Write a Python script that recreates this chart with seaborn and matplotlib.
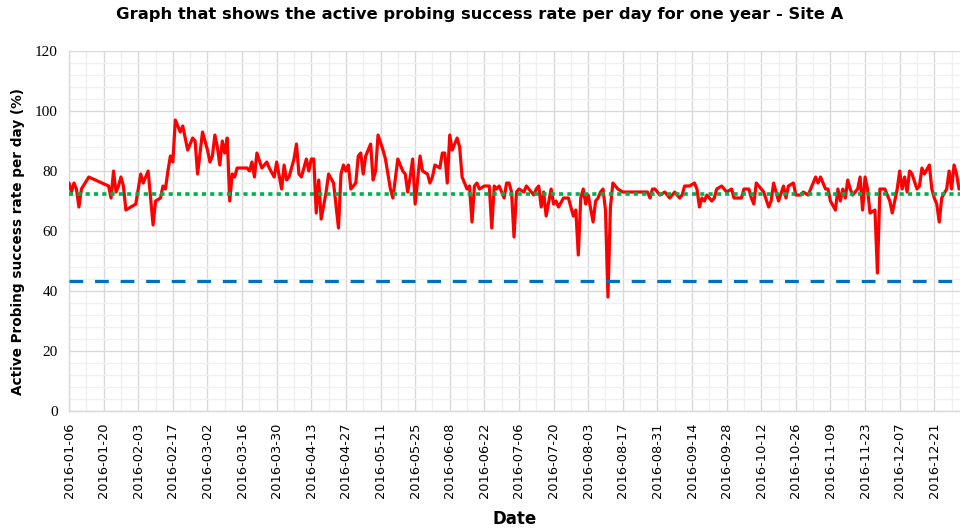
import matplotlib
matplotlib.use("Agg")
import matplotlib.pyplot as plt
import matplotlib.dates as mdates
import seaborn as sns
import pandas as pd
import numpy as np

# data (day offset from 2016-01-06, success rate %)
start_date = "2016-01-06"
day_offsets = [0, 1, 2, 3, 4, 5, 8, 16, 17, 18, 19, 20, 21, 22, 23, 27, 29, 30, 31, 32,
               33, 34, 35, 37, 38, 39, 40, 41, 42, 43, 44, 45, 46, 47, 48, 50, 51, 52, 54, 56,
               57, 58, 59, 60, 61, 62, 63, 64, 65, 66, 67, 68, 72, 73, 74, 75, 76, 78, 80, 81,
               83, 84, 86, 87, 88, 89, 91, 92, 93, 94, 96, 97, 98, 99, 100, 101, 102, 104, 105, 107,
               109, 110, 111, 112, 113, 114, 116, 117, 118, 119, 120, 122, 123, 124, 125, 127, 128, 130, 131, 133,
               135, 136, 137, 138, 139, 140, 142, 143, 145, 146, 147, 148, 150, 151, 152, 153, 154, 155, 157, 158,
               159, 161, 162, 163, 164, 165, 166, 168, 170, 171, 172, 173, 174, 176, 177, 178, 179, 180, 181, 182,
               184, 185, 186, 188, 189, 190, 191, 192, 193, 195, 196, 197, 198, 200, 202, 203, 204, 205, 206, 207,
               208, 209, 210, 212, 213, 214, 215, 216, 217, 218, 219, 220, 222, 224, 234, 235, 236, 237, 239, 241,
               243, 245, 247, 248, 249, 251, 253, 254, 255, 256, 257, 258, 260, 261, 262, 264, 266, 268, 269, 272,
               273, 275, 276, 277, 278, 280, 281, 283, 284, 285, 286, 287, 289, 290, 291, 293, 294, 296, 297, 299,
               300, 302, 303, 304, 306, 307, 308, 310, 311, 312, 313, 314, 315, 316, 317, 319, 320, 321, 322, 323,
               324, 326, 327, 328, 330, 332, 333, 335, 336, 337, 338, 339, 340, 341, 343, 344, 345, 346, 348, 349,
               350, 351, 352, 353, 355, 356, 357, 358, 359, 360]
rates = [76, 73, 76, 74, 68, 74, 78, 75, 71, 80, 73, 75, 78, 75, 67, 69, 79, 76, 78, 80,
         71, 62, 70, 71, 75, 74, 80, 85, 83, 97, 95, 93, 95, 91, 87, 91, 90, 79, 93, 87,
         83, 85, 92, 88, 82, 90, 86, 91, 70, 79, 78, 81, 81, 80, 83, 78, 86, 81, 83, 81,
         78, 83, 74, 82, 77, 78, 84, 89, 79, 78, 84, 80, 84, 84, 66, 77, 64, 73, 79, 76,
         61, 79, 82, 80, 82, 74, 76, 85, 86, 79, 85, 89, 77, 80, 92, 87, 84, 74, 71, 84,
         80, 79, 73, 78, 84, 69, 85, 80, 79, 76, 78, 82, 81, 86, 86, 76, 92, 87, 91, 88,
         78, 74, 75, 63, 75, 76, 74, 75, 75, 61, 75, 74, 75, 71, 76, 76, 73, 58, 73, 74,
         73, 75, 74, 72, 74, 75, 68, 73, 65, 74, 69, 70, 68, 71, 71, 68, 65, 67, 52, 71,
         74, 69, 72, 63, 70, 71, 73, 74, 67, 38, 68, 76, 74, 73, 73, 71, 74, 74, 72, 73,
         71, 73, 71, 72, 75, 75, 76, 74, 68, 71, 70, 72, 70, 71, 74, 75, 73, 74, 71, 71,
         74, 74, 71, 69, 76, 74, 73, 68, 70, 76, 73, 70, 75, 71, 75, 76, 72, 72, 73, 72,
         74, 78, 76, 78, 74, 74, 70, 67, 74, 70, 74, 71, 77, 74, 72, 74, 78, 67, 78, 74,
         66, 67, 46, 74, 74, 70, 66, 74, 80, 74, 78, 73, 80, 79, 74, 75, 81, 79, 82, 74,
         71, 69, 63, 71, 74, 80, 74, 82, 79, 74]
average_rate = 72.3
threshold_rate = 43.5

y_ticks = [0, 20, 40, 60, 80, 100, 120]

dates = pd.to_datetime(start_date) + pd.to_timedelta(day_offsets, unit="D")
df = pd.DataFrame({"Date": dates, "Rate": rates})

sns.set_style("white")
plt.rcParams["font.family"] = ["DejaVu Sans"]
plt.rcParams["text.color"] = "black"
plt.rcParams["axes.labelcolor"] = "black"

fig = plt.figure(figsize=(9.6, 5.32), dpi=100)
ax = fig.add_axes([0.0719, 0.2274, 0.9281, 0.6767])

sns.lineplot(data=df, x="Date", y="Rate", color="#FF0000", linewidth=2.3, ax=ax, zorder=3)
ax.axhline(average_rate, color="#00B050", linewidth=2.6, linestyle=(0, (1.15, 1.15)), zorder=4)
ax.axhline(threshold_rate, color="#0070C0", linewidth=2.3, linestyle=(0, (4.3, 3.7)), zorder=4)

x0 = pd.to_datetime(start_date)
ax.set_xlim(x0, x0 + pd.Timedelta(days=360.4))
ax.set_ylim(0, 120)

major_dates = pd.date_range(start_date, periods=26, freq="14D")
minor_dates = pd.date_range(start_date, periods=52, freq="7D")
ax.set_xticks(major_dates)
ax.set_xticks(minor_dates, minor=True)
ax.xaxis.set_major_formatter(mdates.DateFormatter("%Y-%m-%d"))
ax.set_yticks(y_ticks)
ax.set_yticks(np.arange(0, 121, 4), minor=True)

ax.grid(which="major", color="#d9d9d9", linewidth=1.0, zorder=0)
ax.grid(which="minor", color="#f0f0f0", linewidth=1.0, zorder=0)
ax.set_axisbelow(True)

for side in ["top", "right"]:
    ax.spines[side].set_visible(False)
for side in ["left", "bottom"]:
    ax.spines[side].set_color("#d9d9d9")
    ax.spines[side].set_linewidth(1.0)

ax.tick_params(axis="x", which="major", length=5, color="#d9d9d9", labelcolor="black",
               labelsize=9.4, rotation=90, pad=3)
ax.tick_params(axis="x", which="minor", length=0)
ax.tick_params(axis="y", which="both", length=0, pad=8, labelcolor="black")
for lbl in ax.get_yticklabels():
    lbl.set_family("Liberation Serif")
    lbl.set_fontsize(11)

ax.set_xlabel("Date", fontsize=12, fontweight="bold", labelpad=9)
ax.set_ylabel("Active Probing success rate per day (%)", fontsize=9.8, fontweight="bold")
ax.yaxis.set_label_coords(-0.049, 0.47)
fig.suptitle("Graph that shows the active probing success rate per day for one year - Site A",
             fontsize=11.8, fontweight="bold", x=0.5, y=0.986)

fig.savefig("out.png", dpi=100)
plt.close(fig)
